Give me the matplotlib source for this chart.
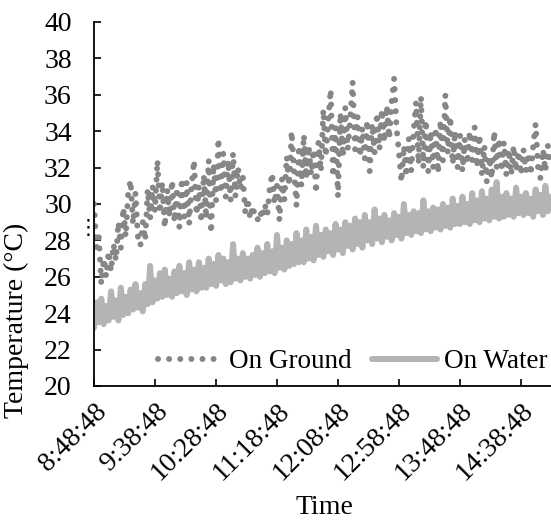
import numpy as np
import matplotlib
matplotlib.use("Agg")
import matplotlib.pyplot as plt

plt.rcParams['font.family'] = ['Liberation Serif', 'DejaVu Serif']

# minutes after 8:48:48, one reading every 2 minutes
minutes = np.arange(0, 376, 2)

on_ground = [
    30.0, 27.6, 28.2, 25.6, 27.0, 26.0, 27.4, 26.3, 27.8, 26.9,
    29.0, 27.6, 29.8, 28.2, 30.6, 31.3, 28.9, 30.6, 28.2, 27.7,
    29.0, 28.0, 30.8, 29.2, 31.0, 29.6, 32.4, 29.5, 31.2, 28.7,
    30.8, 29.3, 31.3, 29.0, 30.9, 28.7, 31.4, 29.3, 31.2, 28.9,
    31.0, 32.4, 29.4, 31.0, 29.0, 31.6, 29.2, 32.4, 28.4, 32.2,
    30.2, 33.6, 30.6, 32.8, 30.4, 32.4, 30.2, 32.8, 30.4, 32.0,
    30.8, 31.5, 29.5, 30.3, 29.2, 29.9, 29.3, 29.1, 29.6, 29.2,
    30.0, 29.4, 30.8, 31.7, 30.0, 31.0, 29.1, 31.4, 30.2, 32.6,
    31.0, 34.0, 31.8, 29.9, 33.2, 31.0, 33.8, 31.4, 33.2, 31.6,
    33.0, 30.6, 33.4, 31.8, 35.2, 32.6, 34.6, 36.3, 31.5, 34.2,
    30.4, 35.0, 32.6, 35.3, 33.0, 34.6, 36.7, 33.0, 34.8, 32.6,
    34.2, 32.5, 34.6, 31.8, 34.4, 32.8, 35.0, 33.0, 35.2, 33.4,
    35.4, 33.6, 35.6, 36.9, 34.2, 32.8, 31.2, 33.2, 31.5, 33.6,
    31.8, 34.0, 35.6, 32.2, 35.9, 32.0, 34.6, 31.8, 34.0, 32.0,
    34.2, 31.7, 34.6, 32.4, 36.0, 32.8, 34.8, 32.2, 34.0, 32.0,
    33.8, 31.8, 33.6, 32.2, 34.0, 32.4, 34.2, 32.0, 33.8, 31.6,
    33.2, 31.2, 32.6, 31.4, 34.0, 32.0, 33.6, 31.8, 33.4, 31.6,
    33.0, 31.6, 33.2, 31.8, 32.9, 31.6, 33.0, 31.8, 32.8, 31.6,
    33.2, 34.4, 32.0, 31.4, 33.0, 31.8, 33.2, 32.2,
]

on_water = [
    23.2, 24.6, 23.5, 24.8, 23.4, 24.4, 23.6, 25.2, 23.8, 24.7,
    23.6, 25.4, 23.9, 24.9, 24.0, 25.3, 24.2, 25.6, 24.3, 25.1,
    24.1, 25.6, 24.5, 26.6, 24.6, 25.8, 24.8, 26.2, 24.9, 26.4,
    25.0, 25.9, 24.9, 26.3, 25.1, 26.6, 25.2, 26.2, 25.0, 26.8,
    25.3, 26.4, 25.2, 26.8, 25.4, 26.5, 25.4, 27.0, 25.6, 26.7,
    25.5, 27.2, 25.8, 27.0, 25.6, 26.8, 25.7, 27.8, 25.9, 27.0,
    25.8, 27.3, 26.0, 27.0, 25.9, 27.2, 26.1, 27.6, 26.0, 27.3,
    26.2, 27.8, 26.3, 27.4, 26.2, 28.3, 26.5, 27.6, 26.4, 28.0,
    26.6, 27.8, 26.7, 28.4, 26.8, 28.0, 26.8, 28.6, 27.0, 28.2,
    26.9, 28.8, 27.2, 28.3, 27.1, 28.6, 27.4, 28.4, 27.2, 28.9,
    27.5, 28.6, 27.3, 29.0, 27.7, 28.8, 27.5, 29.2, 27.8, 29.0,
    27.6, 29.4, 28.0, 29.0, 27.8, 29.7, 28.1, 29.2, 27.9, 29.4,
    28.2, 29.1, 28.0, 29.5, 28.3, 29.3, 28.1, 30.0, 28.4, 29.4,
    28.3, 29.6, 28.5, 29.5, 28.4, 30.2, 28.6, 29.6, 28.5, 29.8,
    28.7, 29.7, 28.6, 30.0, 28.8, 29.8, 28.7, 30.3, 28.9, 29.9,
    28.9, 30.4, 29.0, 30.0, 28.9, 30.6, 29.1, 30.2, 29.0, 30.7,
    29.2, 30.3, 29.1, 30.8, 29.3, 31.2, 29.2, 30.4, 29.3, 30.6,
    29.4, 30.3, 29.3, 30.9, 29.5, 30.4, 29.4, 30.6, 29.5, 30.3,
    29.3, 30.8, 29.6, 30.5, 29.4, 31.0, 29.6, 30.4,
]

tick_minutes = [0, 50, 100, 150, 200, 250, 300, 350]
tick_labels = ['8:48:48', '9:38:48', '10:28:48', '11:18:48',
               '12:08:48', '12:58:48', '13:48:48', '14:38:48']

fig = plt.figure(figsize=(5.51, 5.21), dpi=100)
ax = fig.add_axes([94/551, 135/521, 457/551, 364/521])

ax.plot(minutes, on_ground, color='#868686', linewidth=4.3,
        linestyle=(0, (0.01, 1.85)), dash_capstyle='round', label='On Ground')
ax.plot(minutes, on_water, color='#b4b4b4', linewidth=4.3,
        solid_joinstyle='round', solid_capstyle='round', label='On Water')

ax.set_xlim(0, 374.6)
ax.set_ylim(20, 40)
ax.set_yticks(np.arange(20, 41, 2))
ax.set_xticks(tick_minutes)
ax.set_xticklabels(tick_labels, rotation=45, ha='right', va='top',
                   rotation_mode='anchor')

for s in ['top', 'right']:
    ax.spines[s].set_visible(False)
for s in ['left', 'bottom']:
    ax.spines[s].set_linewidth(1.3)
ax.tick_params(axis='both', direction='in', length=5, width=1.2,
               labelsize=20)
ax.tick_params(axis='x', pad=9)
ax.tick_params(axis='y', pad=16)

ax.set_xlabel('Time', fontsize=20)
ax.xaxis.set_label_coords(0.505, -0.3)
ax.set_ylabel('Temperature (°C)', fontsize=20)
ax.yaxis.set_label_coords(-0.142, 0.18)

# small dotted mark just left of the axis
ax.text(-0.013, 0.434, '\u22ee', transform=ax.transAxes, fontsize=15,
        ha='center', va='center', family=['DejaVu Sans'])

ax.legend(loc='center left', bbox_to_anchor=(0.139, 0.066), ncol=2,
          frameon=False, fontsize=19.5, handlelength=2.4,
          handletextpad=0.25, columnspacing=0.75, borderpad=0,
          borderaxespad=0)

plt.savefig('out.png', dpi=100)
